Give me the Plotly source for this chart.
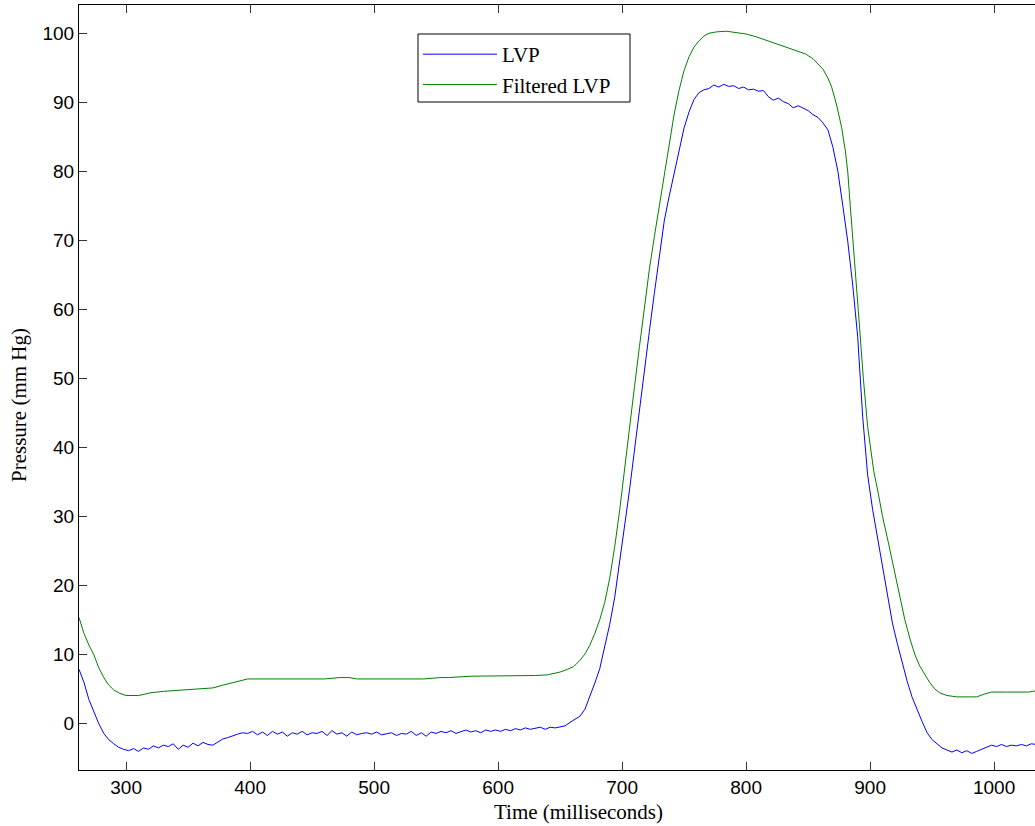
import plotly.graph_objects as go

# ---- data ----
t_lvp = list(range(262, 1035, 4))
lvp = [
    7.8, 5.9, 3.4, 1.5, -0.1, -1.5, -2.4, -3.0, -3.5, -3.8,
    -4.0, -3.7, -4.1, -3.6, -3.8, -3.3, -3.6, -3.2, -3.4, -3.0,
    -3.8, -3.2, -3.5, -2.9, -3.3, -2.8, -3.1, -3.2, -2.8, -2.3,
    -2.1, -1.8, -1.6, -1.4, -1.5, -1.2, -1.7, -1.3, -1.8, -1.2,
    -1.6, -1.3, -1.9, -1.4, -1.6, -1.2, -1.7, -1.4, -1.5, -1.2,
    -1.8, -1.1, -1.6, -1.4, -1.9, -1.3, -1.7, -1.5, -1.4, -1.6,
    -1.3, -1.7, -1.5, -1.4, -1.8, -1.5, -1.6, -1.2, -1.8, -1.4,
    -1.9, -1.3, -1.5, -1.2, -1.4, -1.1, -1.5, -1.2, -1.0, -1.3,
    -1.1, -1.4, -1.0, -1.2, -1.0, -1.2, -0.9, -1.1, -0.8, -1.0,
    -0.7, -0.9, -0.8, -0.6, -0.9, -0.6, -0.7, -0.5, -0.4, 0.1,
    0.6, 1.0, 2.0, 3.8, 5.8, 7.9, 10.9, 14.3, 18.2, 23.3,
    28.5, 33.8, 39.6, 45.5, 51.3, 56.8, 62.3, 67.8, 72.8, 76.4,
    79.8, 83.2, 86.3, 88.6, 90.4, 91.4, 91.8, 92.0, 92.5, 92.2,
    92.6, 92.3, 92.4, 92.0, 92.2, 91.8, 91.9, 91.6, 91.7, 90.8,
    90.3, 90.6, 90.1, 89.8, 89.2, 89.5, 89.1, 88.8, 88.2, 87.8,
    87.0, 86.0, 83.5, 80.0, 75.0, 69.8, 63.5, 56.0, 44.5, 36.0,
    31.0, 26.8, 22.8, 18.5, 14.5, 11.5, 8.6, 6.0, 3.7, 1.8,
    0.2, -1.4, -2.4, -3.0, -3.6, -3.9, -4.2, -3.9, -4.3, -4.0,
    -4.4, -4.1, -3.8, -3.5, -3.2, -3.4, -3.1, -3.4, -3.2, -3.3,
    -3.1, -3.3, -3.0, -3.1,
]

t_filt = [
    262, 266, 270, 274, 278, 282, 286, 290, 295, 300,
    310, 320, 330, 340, 350, 360, 370, 378, 386, 392,
    398, 420, 440, 460, 472, 480, 486, 500, 520, 540,
    553, 560, 578, 600, 620, 630, 640, 650, 656, 661,
    666, 670, 674, 678, 682, 686, 690, 694, 698, 702,
    706, 710, 714, 718, 722, 726, 730, 734, 738, 742,
    746, 750, 754, 758, 762, 766, 770, 776, 784, 792,
    800, 808, 816, 824, 832, 840, 848, 854, 858, 862,
    866, 869, 873, 877, 880, 882, 884, 886.5, 890.5, 894.5,
    898, 900, 903, 906.6, 910, 914.7, 919, 924, 928, 932,
    936, 940, 944, 948, 952, 956, 962, 970, 980, 986,
    992, 998, 1010, 1020, 1028, 1034,
]
filt = [
    15.3, 13.0, 11.3, 9.9, 8.0, 6.6, 5.5, 4.8, 4.3, 4.0,
    4.0, 4.4, 4.6, 4.7, 4.9, 5.0, 5.1, 5.5, 5.9, 6.2,
    6.4, 6.4, 6.4, 6.4, 6.6, 6.6, 6.4, 6.4, 6.4, 6.4,
    6.6, 6.6, 6.8, 6.8, 6.9, 6.9, 7.0, 7.4, 7.8, 8.2,
    9.1, 10.0, 11.3, 13.0, 15.0, 17.5, 21.0, 25.5, 30.8, 37.0,
    43.0, 48.8, 54.6, 60.5, 65.8, 70.5, 74.9, 79.6, 84.2, 88.3,
    91.8, 94.6, 96.6, 98.0, 98.9, 99.6, 100.0, 100.2, 100.3, 100.1,
    99.9, 99.5, 99.0, 98.4, 97.9, 97.5, 97.0, 96.3, 95.6, 94.8,
    93.5, 92.2, 89.6, 86.4, 83.0, 79.9, 75.0, 69.5, 59.8, 50.1,
    43.0, 40.4, 36.5, 33.3, 30.0, 26.2, 22.7, 18.2, 15.0, 12.3,
    10.0, 8.3, 7.0, 5.9, 5.0, 4.4, 4.0, 3.8, 3.8, 3.8,
    4.2, 4.5, 4.5, 4.5, 4.5, 4.7,
]

x_ticks = [300, 400, 500, 600, 700, 800, 900, 1000]
y_ticks = [0, 10, 20, 30, 40, 50, 60, 70, 80, 90, 100]
x_range = [262, 1033]
y_range = [-6.8, 104.1]

fig = go.Figure()
fig.add_trace(go.Scatter(x=t_lvp, y=lvp, mode="lines", name="LVP",
                         line=dict(color="#0000FF", width=1)))
fig.add_trace(go.Scatter(x=t_filt, y=filt, mode="lines", name="Filtered LVP",
                         line=dict(color="#008000", width=1)))

tick_font = dict(family="Liberation Sans, Arial, sans-serif", size=19, color="black")
label_font = dict(family="Liberation Serif, Times New Roman, serif", size=21, color="black")

# plot-area pixel geometry helpers (paper coordinates)
L, T, W, H = 79, 5, 956, 765


def px_x(p):
    return (p - L) / W


def px_y(p):
    return (T + H - p) / H


fig.update_layout(
    width=1035, height=826,
    margin=dict(l=L, r=0, t=T, b=826 - T - H),
    paper_bgcolor="white", plot_bgcolor="white",
    showlegend=True,
    legend=dict(
        x=px_x(418), y=px_y(34), xanchor="left", yanchor="top",
        bgcolor="rgba(0,0,0,0)", borderwidth=0,
        font=label_font, itemwidth=74, tracegroupgap=0,
    ),
    xaxis=dict(
        range=x_range, tickvals=x_ticks, ticks="inside", ticklen=8,
        tickcolor="#333333", showline=True, linecolor="black", linewidth=1,
        mirror="ticks", showgrid=False, zeroline=False, tickfont=tick_font,
    ),
    yaxis=dict(
        range=y_range, tickvals=y_ticks, ticks="inside", ticklen=8,
        tickcolor="#333333", showline=True, linecolor="black", linewidth=1,
        mirror=False, showgrid=False, zeroline=False, tickfont=tick_font,
    ),
    shapes=[
        dict(type="rect", xref="paper", yref="paper",
             x0=px_x(418), x1=px_x(630), y0=px_y(102), y1=px_y(34),
             line=dict(color="black", width=1), fillcolor="white", layer="above"),
    ],
    annotations=[
        dict(text="Time (milliseconds)", xref="paper", yref="paper",
             x=px_x(578), y=px_y(812), xanchor="center", yanchor="middle",
             showarrow=False, font=label_font, borderpad=0),
        dict(text="Pressure (mm Hg)", xref="paper", yref="paper",
             x=px_x(19), y=px_y(405), xanchor="center", yanchor="middle",
             textangle=-90, showarrow=False, font=label_font, borderpad=0),
    ],
)

fig.write_html("out.html")
